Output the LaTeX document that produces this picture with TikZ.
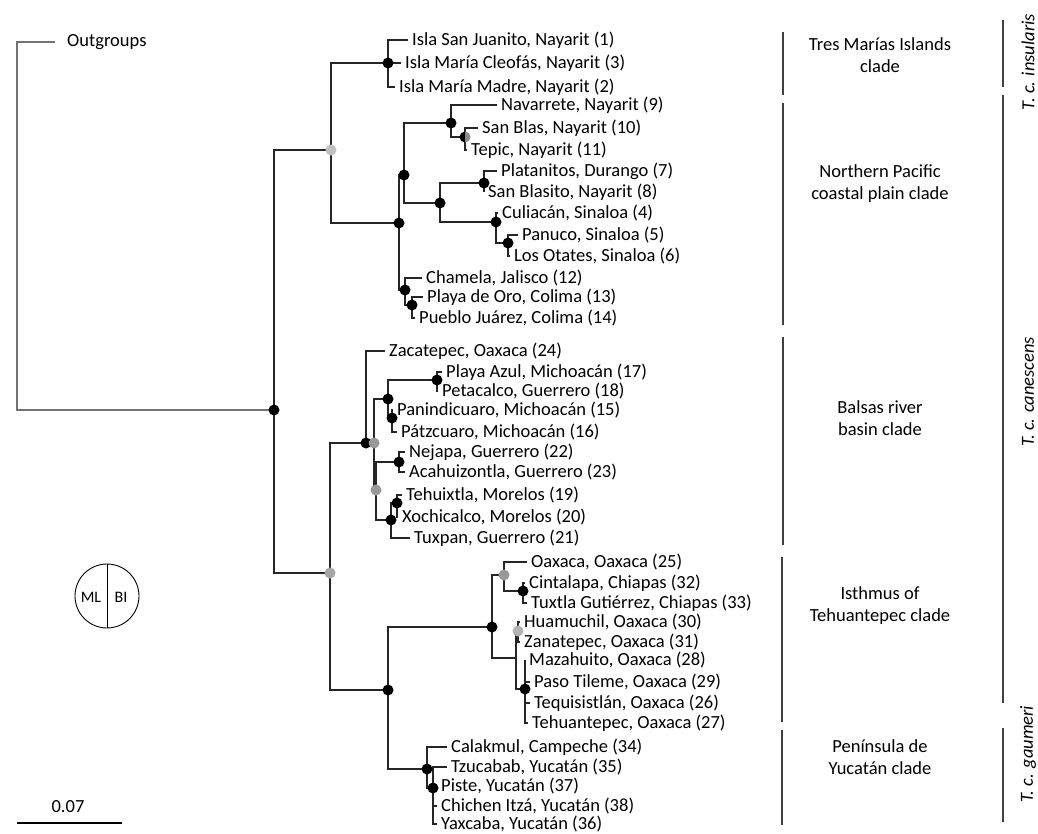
\documentclass[tikz,border=0pt]{standalone}
\usepackage{fontspec}
\setmainfont{Carlito}

% split support dot: left half ML, right half BI
\newcommand{\clsupp}[3]{%
  \fill[#2] (#1) ++(0,5.5pt) arc[start angle=90,end angle=270,radius=5.5pt] -- cycle;
  \fill[#3] (#1) ++(0,-5.5pt) arc[start angle=-90,end angle=90,radius=5.5pt] -- cycle;}

\begin{document}
\begin{tikzpicture}[x=1pt,y=-1pt,font=\fontsize{18.5}{22}\selectfont,
  br/.style={draw=black!85, line width=1.3pt},
  ogbr/.style={draw=black!55, line width=1.3pt},
  tip/.style={anchor=west, inner xsep=4pt, inner ysep=1pt, text=black},
  clade/.style={align=center, text=black, font=\fontsize{18.5}{22}\selectfont},
  bar/.style={draw=black!75, line width=1.1pt},
  subsp/.style={rotate=90, text=black, font=\fontsize{18.5}{22}\selectfont\itshape}]

\useasboundingbox (0,0) rectangle (1038,833);

\begin{scope}
% internal nodes
\coordinate (base) at (17,226);
\coordinate (root) at (274,410);
\coordinate (ins) at (331,150);
\coordinate (tm) at (388,63);
\coordinate (np) at (399,223);
\coordinate (npa) at (404,175);
\coordinate (nav) at (451,123);
\coordinate (sbt) at (465,137);
\coordinate (npb) at (440,203);
\coordinate (pla) at (484,183);
\coordinate (cul) at (496,222);
\coordinate (pan) at (508,243);
\coordinate (cha) at (405,290);
\coordinate (pdo) at (412,305);
\coordinate (sth) at (330,573);
\coordinate (bal) at (366,443);
\coordinate (bala) at (374,443);
\coordinate (mic) at (388,399);
\coordinate (paz) at (437,380);
\coordinate (pni) at (392,418);
\coordinate (gue) at (376,490);
\coordinate (nej) at (399,462);
\coordinate (mor) at (391,520);
\coordinate (teh) at (397,503);
\coordinate (soc) at (388,690);
\coordinate (ist) at (492,627);
\coordinate (oax) at (504,575);
\coordinate (cin) at (523,591);
\coordinate (zan) at (516,658);
\coordinate (hua) at (518,631);
\coordinate (maz) at (525,689);
\coordinate (yuc) at (427,769);
\coordinate (tzu) at (433,788);

% tips
\coordinate (ogend) at (55,42);
\node[tip] (og) at (63,42) {Outgroups};
\node[tip] (t1) at (408,40) {Isla San Juanito, Nayarit (1)};
\node[tip] (t3) at (401,63) {Isla María Cleofás, Nayarit (3)};
\node[tip] (t2) at (395,87) {Isla María Madre, Nayarit (2)};
\node[tip] (t9) at (497,105) {Navarrete, Nayarit (9)};
\node[tip] (t10) at (478,128) {San Blas, Nayarit (10)};
\node[tip] (t11) at (467,150) {Tepic, Nayarit (11)};
\node[tip] (t7) at (497,171) {Platanitos, Durango (7)};
\node[tip] (t8) at (484,192) {San Blasito, Nayarit (8)};
\node[tip] (t4) at (498,213) {Culiacán, Sinaloa (4)};
\node[tip] (t5) at (518,235) {Panuco, Sinaloa (5)};
\node[tip] (t6) at (510,256) {Los Otates, Sinaloa (6)};
\node[tip] (t12) at (422,278) {Chamela, Jalisco (12)};
\node[tip] (t13) at (423,297) {Playa de Oro, Colima (13)};
\node[tip] (t14) at (415,318) {Pueblo Juárez, Colima (14)};
\node[tip] (t24) at (385,351) {Zacatepec, Oaxaca (24)};
\node[tip] (t17) at (442,372) {Playa Azul, Michoacán (17)};
\node[tip] (t18) at (438,391) {Petacalco, Guerrero (18)};
\node[tip] (t15) at (393,410) {Panindicuaro, Michoacán (15)};
\node[tip] (t16) at (397,432) {Pátzcuaro, Michoacán (16)};
\node[tip] (t22) at (405,452) {Nejapa, Guerrero (22)};
\node[tip] (t23) at (405,472) {Acahuizontla, Guerrero (23)};
\node[tip] (t19) at (402,495) {Tehuixtla, Morelos (19)};
\node[tip] (t20) at (398,517) {Xochicalco, Morelos (20)};
\node[tip] (t21) at (410,538) {Tuxpan, Guerrero (21)};
\node[tip] (t25) at (527,562) {Oaxaca, Oaxaca (25)};
\node[tip] (t32) at (525,583) {Cintalapa, Chiapas (32)};
\node[tip] (t33) at (527,603) {Tuxtla Gutiérrez, Chiapas (33)};
\node[tip] (t30) at (520,622) {Huamuchil, Oaxaca (30)};
\node[tip] (t31) at (520,642) {Zanatepec, Oaxaca (31)};
\node[tip] (t28) at (525,660) {Mazahuito, Oaxaca (28)};
\node[tip] (t29) at (530,682) {Paso Tileme, Oaxaca (29)};
\node[tip] (t26) at (530,703) {Tequisistlán, Oaxaca (26)};
\node[tip] (t27) at (528,723) {Tehuantepec, Oaxaca (27)};
\node[tip] (t34) at (447,747) {Calakmul, Campeche (34)};
\node[tip] (t35) at (447,767) {Tzucabab, Yucatán (35)};
\node[tip] (t37) at (437,786) {Piste, Yucatán (37)};
\node[tip] (t38) at (437,806) {Chichen Itzá, Yucatán (38)};
\node[tip] (t36) at (437,824) {Yaxcaba, Yucatán (36)};

% branches
\draw[ogbr] (base) |- (ogend);
\draw[ogbr] (base) |- (root);
\draw[br] (root) |- (ins);
\draw[br] (root) |- (sth);
\draw[br] (ins) |- (tm);
\draw[br] (ins) |- (np);
\foreach \t in {t1,t3,t2} \draw[br] (tm) |- (\t);
\draw[br] (np) |- (npa);
\draw[br] (np) |- (cha);
\draw[br] (npa) |- (nav);
\draw[br] (npa) |- (npb);
\draw[br] (nav) |- (t9);
\draw[br] (nav) |- (sbt);
\draw[br] (sbt) |- (t10);
\draw[br] (sbt) |- (t11);
\draw[br] (npb) |- (pla);
\draw[br] (npb) |- (cul);
\draw[br] (pla) |- (t7);
\draw[br] (pla) |- (t8);
\draw[br] (cul) |- (t4);
\draw[br] (cul) |- (pan);
\draw[br] (pan) |- (t5);
\draw[br] (pan) |- (t6);
\draw[br] (cha) |- (t12);
\draw[br] (cha) |- (pdo);
\draw[br] (pdo) |- (t13);
\draw[br] (pdo) |- (t14);
\draw[br] (sth) |- (bal);
\draw[br] (sth) |- (soc);
\draw[br] (bal) |- (t24);
\draw[br] (bal) -- (bala);
\draw[br] (bala) |- (mic);
\draw[br] (bala) |- (gue);
\draw[br] (mic) |- (paz);
\draw[br] (mic) |- (pni);
\draw[br] (paz) |- (t17);
\draw[br] (paz) |- (t18);
\draw[br] (pni) |- (t15);
\draw[br] (pni) |- (t16);
\draw[br] (gue) |- (nej);
\draw[br] (gue) |- (mor);
\draw[br] (nej) |- (t22);
\draw[br] (nej) |- (t23);
\draw[br] (mor) |- (teh);
\draw[br] (mor) |- (t21);
\draw[br] (teh) |- (t19);
\draw[br] (teh) |- (t20);
\draw[br] (soc) |- (ist);
\draw[br] (soc) |- (yuc);
\draw[br] (ist) |- (oax);
\draw[br] (ist) |- (zan);
\draw[br] (oax) |- (t25);
\draw[br] (oax) |- (cin);
\draw[br] (cin) |- (t32);
\draw[br] (cin) |- (t33);
\draw[br] (zan) |- (hua);
\draw[br] (zan) |- (maz);
\draw[br] (hua) |- (t30);
\draw[br] (hua) |- (t31);
\foreach \t in {t28,t29,t26,t27} \draw[br] (maz) |- (\t);
\draw[br] (yuc) |- (t34);
\draw[br] (yuc) |- (tzu);
\foreach \t in {t35,t37,t38,t36} \draw[br] (tzu) |- (\t);

% support values
\foreach \n in {root,tm,np,npa,nav,npb,pla,cul,pan,cha,pdo,bal,mic,paz,pni,nej,mor,teh,soc,ist,cin,maz,yuc,tzu}
  \clsupp{\n}{black}{black};
\clsupp{sbt}{black}{black!45}
\clsupp{ins}{black!25}{black!25}
\clsupp{sth}{black!35}{black!35}
\clsupp{bala}{black!40}{black!40}
\clsupp{gue}{black!40}{black!40}
\clsupp{oax}{black!40}{black!40}
\clsupp{hua}{black!30}{black!30}
\end{scope}

% clades
\draw[bar] (783,32) -- (783,95);
\draw[bar] (783,103) -- (783,325);
\draw[bar] (783,337) -- (783,545);
\draw[bar] (782,557) -- (782,722);
\draw[bar] (782,730) -- (782,825);
\node[clade] (tmc) at (880,55) {Tres Marías Islands\\clade};
\node[clade] (npc) at (880,184) {Northern Pacific\\coastal plain clade};
\node[clade] (bac) at (880,418) {Balsas river\\basin clade};
\node[clade] (itc) at (880,606) {Isthmus of\\Tehuantepec clade};
\node[clade] (yuc2) at (880,757) {Península de\\Yucatán clade};

\draw[bar] (1003,20) -- (1003,87);
\draw[bar] (1003,95) -- (1003,703);
\draw[bar] (1003,728) -- (1003,822);
\node[subsp] (sins) at (1028,62) {T. c. insularis};
\node[subsp] (scan) at (1028,392) {T. c. canescens};
\node[subsp] (sgau) at (1028,754) {T. c. gaumeri};

% legend and scale
\draw[line width=0.9pt] (107,596) circle (32);
\draw[line width=0.7pt] (107,564) -- (107,628);
\node[font=\fontsize{16}{18}\selectfont] (ml) at (91,597) {ML};
\node[font=\fontsize{16}{18}\selectfont] (bi) at (121,597) {BI};
\draw[line width=1.4pt] (17,823) -- (122,823);
\node (sc) at (68,807) {0.07};

\end{tikzpicture}
\end{document}
